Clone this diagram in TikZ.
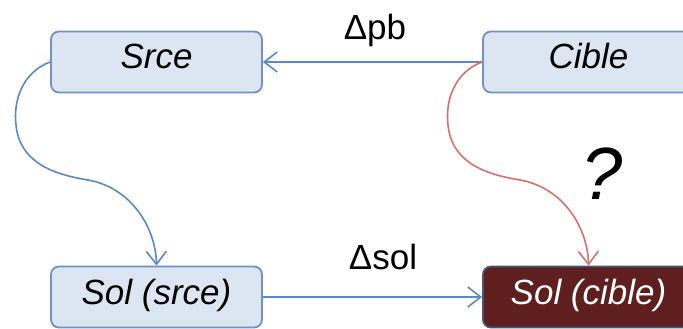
\documentclass[tikz,border=0pt]{standalone}
\usepackage{fontspec}
\setmainfont{Liberation Sans}
\usetikzlibrary{arrows.meta}
\definecolor{boxfill}{HTML}{DCE6F2}
\definecolor{boxline}{HTML}{7092C2}
\definecolor{conblue}{HTML}{5A8AC6}
\definecolor{conred}{HTML}{D9706C}
\definecolor{maroonfill}{HTML}{5E1F1E}
\begin{document}
\begin{tikzpicture}[x=1pt,y=-1pt,
  box/.style={draw=boxline, line width=1.8pt, fill=boxfill, rounded corners=8pt,
    minimum width=211pt, minimum height=61pt, inner sep=0pt,
    text height=25pt, text depth=11pt,
    font=\fontsize{35}{40}\selectfont\itshape},
  darkbox/.style={box, fill=maroonfill, draw=boxline!60!black, text=white},
  conn/.style={line width=1.6pt, -{Straight Barb[length=13pt,width=20pt]}},
  lbl/.style={anchor=base, inner sep=0pt, font=\fontsize{35}{40}\selectfont}]
\clip (0,0) rectangle (683,329);
\fill[white] (0,0) rectangle (683,329);
\node[box] (srce) at (156.5,62) {Srce};
\node[box] (cible) at (588.5,62) {Cible};
\node[box] (solsrce) at (156.5,297) {Sol (srce)};
\node[darkbox] (solcible) at (588.5,297) {Sol (cible)};
\node[lbl] (dpb) at (375,40) {Δpb};
\node[lbl] (dsol) at (383,269) {Δsol};
\node[lbl, font=\fontsize{74}{80}\selectfont\itshape] (q) at (602,199) {?};
\draw[conn, conblue] (cible.west) -- (srce.east);
\draw[conn, conblue] (solsrce.east) -- (solcible.west);
\draw[conn, conblue] (srce.west) .. controls (23,72) and (13,100) .. (16,125)
  .. controls (20,165) and (58,175) .. (88,180)
  .. controls (133,188) and (156,230) .. (solsrce.north);
\draw[conn, conred] (cible.west) .. controls (455,72) and (445,100) .. (448,125)
  .. controls (452,165) and (490,175) .. (520,180)
  .. controls (565,188) and (588,230) .. (solcible.north);
\end{tikzpicture}
\end{document}
